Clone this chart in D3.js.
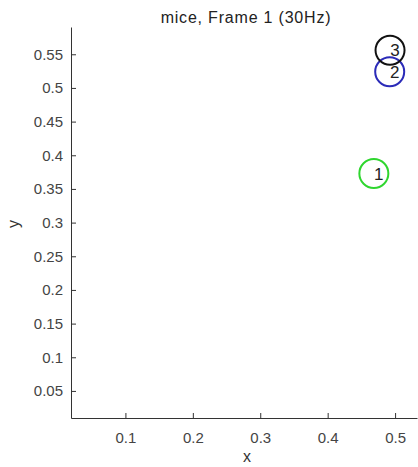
<!DOCTYPE html>
<html>
<head>
<meta charset="utf-8">
<script src="https://cdn.jsdelivr.net/npm/d3@7"></script>
<style>
  html, body { margin: 0; padding: 0; background: #fff; }
  svg { display: block; font-family: "Liberation Sans", Arial, sans-serif; }
</style>
</head>
<body>
<div class="chart"></div>
<script>
// mice positions in frame 1
const ids = ["1", "2", "3"];
const xs = [0.4685, 0.492, 0.4925];
const ys = [0.373, 0.524, 0.556];
const colors = ["#2fd62f", "#2b2bb8", "#111111"];

const xTicks = [0.1, 0.2, 0.3, 0.4, 0.5];
const yTicks = [0.05, 0.1, 0.15, 0.2, 0.25, 0.3, 0.35, 0.4, 0.45, 0.5, 0.55];

const dims = {
    width: 418,
    height: 467,
    margin: { left: 71, right: 1, top: 27, bottom: 49 }
};

const svg = d3.select('.chart').append('svg')
    .attr('width', dims.width)
    .attr('height', dims.height);

const x = d3.scaleLinear()
    .domain([0.0193, 0.5325])
    .range([dims.margin.left, dims.width - dims.margin.right]);

const y = d3.scaleLinear()
    .domain([0.0098, 0.5905])
    .range([dims.height - dims.margin.bottom, dims.margin.top]);

const axisColor = "#333";

// x axis, ticks pointing inward
svg.append('g')
    .attr('transform', `translate(0,${dims.height - dims.margin.bottom})`)
    .call(d3.axisBottom(x).tickValues(xTicks).tickSizeInner(-5).tickSizeOuter(0).tickPadding(14)
        .tickFormat(d3.format('.1f')))
    .call(g => g.select('.domain').attr('stroke', axisColor))
    .call(g => g.selectAll('.tick line').attr('stroke', axisColor))
    .call(g => g.selectAll('.tick text').attr('fill', '#444').style('font-size', '15px'));

// y axis
svg.append('g')
    .attr('transform', `translate(${dims.margin.left},0)`)
    .call(d3.axisLeft(y).tickValues(yTicks).tickSizeInner(-5).tickSizeOuter(0).tickPadding(8)
        .tickFormat(d => String(+d.toFixed(2))))
    .call(g => g.select('.domain').attr('stroke', axisColor))
    .call(g => g.selectAll('.tick line').attr('stroke', axisColor))
    .call(g => g.selectAll('.tick text').attr('fill', '#444').style('font-size', '15px'));

svg.append('text')
    .attr('x', 246).attr('y', 23)
    .attr('text-anchor', 'middle')
    .style('font-size', '16px').style('letter-spacing', '0.8px').attr('fill', '#222')
    .text('mice, Frame 1 (30Hz)');

svg.append('text')
    .attr('x', 247).attr('y', 462)
    .attr('text-anchor', 'middle')
    .style('font-size', '16px').attr('fill', '#333')
    .text('x');

svg.append('text')
    .attr('transform', `translate(19,224) rotate(-90)`)
    .attr('text-anchor', 'middle')
    .style('font-size', '16px').attr('fill', '#333')
    .text('y');

const mice = svg.append('g')
    .selectAll('g')
    .data(ids)
    .join('g')
    .attr('transform', (d, i) => `translate(${x(xs[i])},${y(ys[i])})`);

mice.append('circle')
    .attr('r', 14.5)
    .attr('fill', 'none')
    .attr('stroke', (d, i) => colors[i])
    .attr('stroke-width', 2);

mice.append('text')
    .attr('x', 5)
    .attr('dy', '0.36em')
    .attr('text-anchor', 'middle')
    .style('font-size', '17px')
    .attr('fill', '#222')
    .text(d => d);
</script>
</body>
</html>
